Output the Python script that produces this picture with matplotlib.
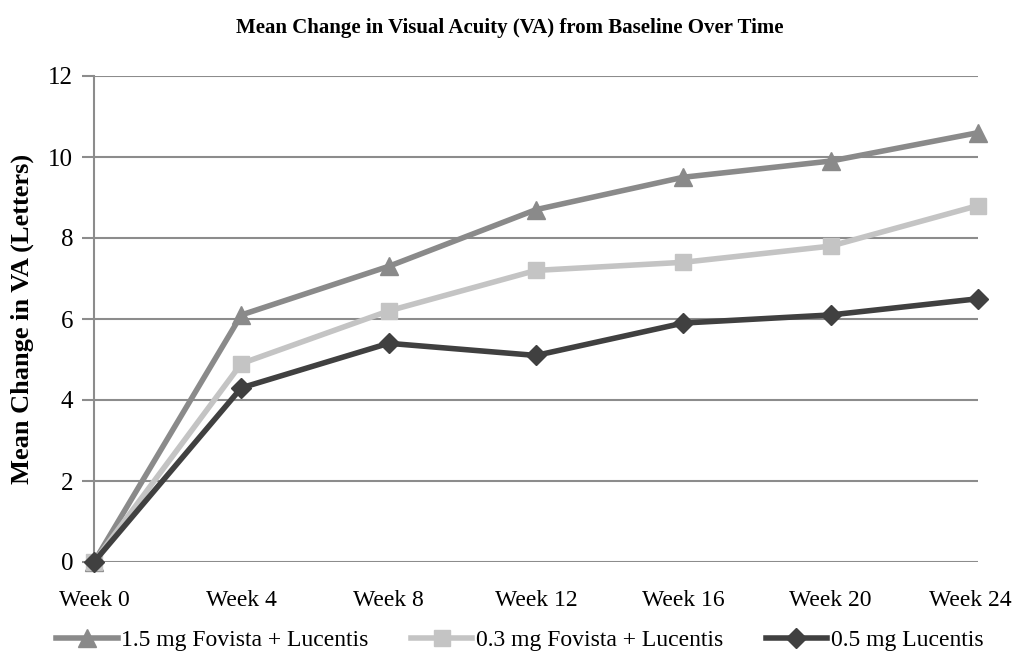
import matplotlib
matplotlib.use("Agg")
import matplotlib.pyplot as plt
import matplotlib.transforms as mtransforms

# data
weeks = ["Week 0", "Week 4", "Week 8", "Week 12", "Week 16", "Week 20", "Week 24"]
fovista_15 = [0, 6.1, 7.3, 8.7, 9.5, 9.9, 10.6]
fovista_03 = [0, 4.9, 6.2, 7.2, 7.4, 7.8, 8.8]
lucentis_05 = [0, 4.3, 5.4, 5.1, 5.9, 6.1, 6.5]
series_names = ["1.5 mg Fovista + Lucentis", "0.3 mg Fovista + Lucentis", "0.5 mg Lucentis"]
y_ticks = [0, 2, 4, 6, 8, 10, 12]

plt.rcParams["font.family"] = ["Liberation Serif", "DejaVu Serif"]

fig = plt.figure(figsize=(10.19, 6.66), dpi=100)
ax = fig.add_axes([94 / 1019, 1 - 562 / 666, (978 - 94) / 1019, (562 - 76) / 666])

x = list(range(len(weeks)))
ax.plot(x, fovista_15, color="#8a8a8a", lw=4, marker="^", ms=13, clip_on=False, zorder=3, label=series_names[0])
ax.plot(x, fovista_03, color="#c4c4c4", lw=4, marker="s", ms=12, clip_on=False, zorder=3, label=series_names[1])
ax.plot(x, lucentis_05, color="#404040", lw=4, marker="D", ms=10, clip_on=False, zorder=4, label=series_names[2])

ax.set_xlim(0, 6)
ax.set_ylim(0, 12)
ax.set_yticks(y_ticks)
ax.set_xticks(x)
ax.set_xticklabels(weeks)
ax.grid(axis="y", color="#8c8c8c", lw=1.5)
ax.set_axisbelow(True)
for s in ["top", "right", "bottom"]:
    ax.spines[s].set_visible(False)
ax.spines["left"].set_color("#8c8c8c")
ax.spines["left"].set_linewidth(1.5)
ax.tick_params(axis="y", length=9, width=1.5, color="#8c8c8c", labelsize=18, pad=6)
ax.tick_params(axis="x", length=0, labelsize=17, pad=20)

# nudge the last week label so it stays inside the picture
last = ax.get_xticklabels()[-1]
last.set_transform(last.get_transform() + mtransforms.ScaledTranslation(-8 / 100, 0, fig.dpi_scale_trans))

ax.set_ylabel("Mean Change in VA (Letters)", fontsize=19, fontweight="bold", labelpad=10)
fig.text(0.5, 1 - 28 / 666, "Mean Change in Visual Acuity (VA) from Baseline Over Time",
         ha="center", va="center", fontsize=15, fontweight="bold")

fig.legend(loc="center", bbox_to_anchor=(0.510, 1 - 640 / 666), ncol=3, frameon=False,
           fontsize=17, handlelength=2.6, columnspacing=1.8, handletextpad=0.15)

fig.savefig("out.png", dpi=100)
